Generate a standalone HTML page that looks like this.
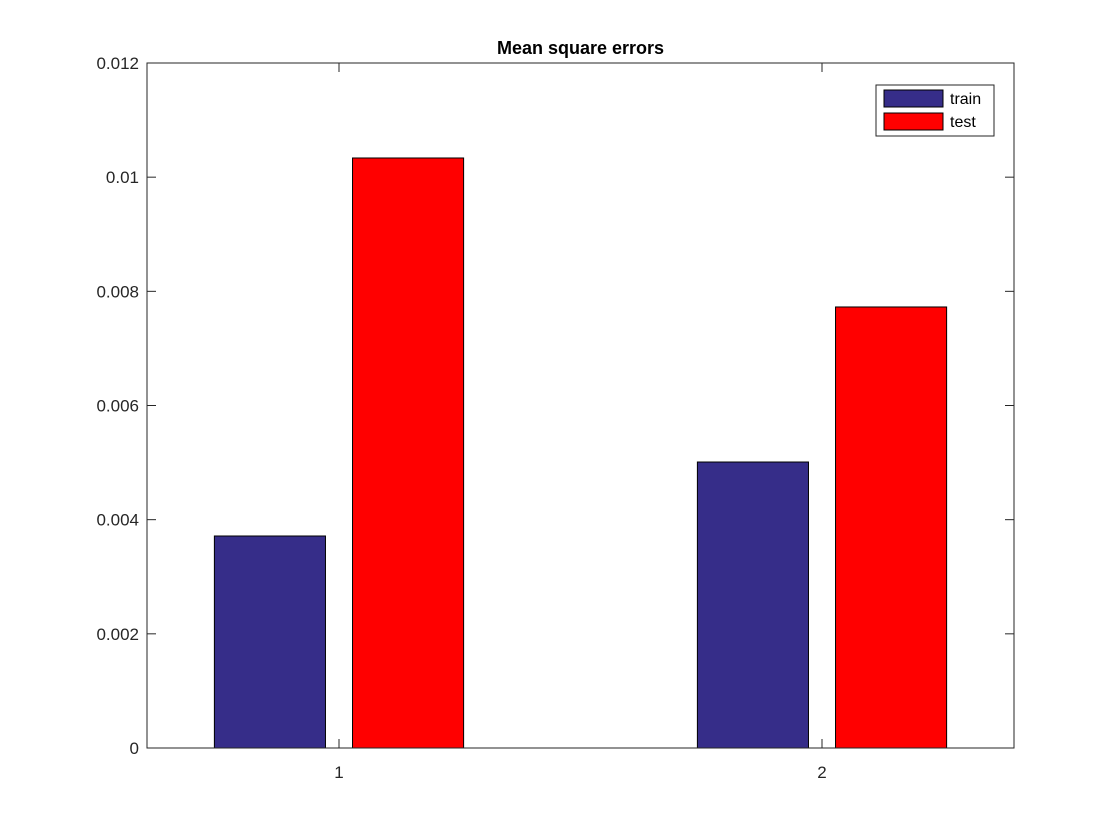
<!DOCTYPE html>
<html><head><meta charset="utf-8"><style>
body{margin:0;background:#fff;}
svg{display:block;font-family:"Liberation Sans",sans-serif;}
</style></head><body>
<svg id="chart" width="1120" height="840"></svg>
<script>
const categories=["1","2"];
const trainValues=[0.003714,0.00501];
const testValues=[0.010336,0.007726];
const yTicks=[0,0.002,0.004,0.006,0.008,0.01,0.012];
const yTickLabels=["0","0.002","0.004","0.006","0.008","0.01","0.012"];
const seriesNames=["train","test"];

const svg=document.getElementById('chart');
const NS='http://www.w3.org/2000/svg';
const L=147,R=1014,T=63,B=748;
const xMin=0.6025,xMax=2.3975,yMax=0.012;
const xs=v=>L+(v-xMin)/(xMax-xMin)*(R-L);
const ys=v=>B-v/yMax*(B-T);
function mk(tag,attrs,parent){const e=document.createElementNS(NS,tag);for(const k in attrs)e.setAttribute(k,attrs[k]);(parent||svg).appendChild(e);return e;}

const bg=mk('rect',{x:L,y:T,width:R-L,height:B-T,fill:'#fff'});



const barW=0.23,off=0.143;
const series=[trainValues,testValues],colors=['#362d89','#ff0000'];
series.forEach((vals,s)=>{
  vals.forEach((v,i)=>{
    const c=i+1+(s===0?-off:off);
    const x0=xs(c-barW/2),x1=xs(c+barW/2);
    const r=mk('rect',{x:x0,y:ys(v),width:x1-x0,height:ys(0)-ys(v),fill:colors[s],stroke:'#000','stroke-width':1});
    
    
  });
});

const box=mk('rect',{x:L,y:T,width:R-L,height:B-T,fill:'none',stroke:'#262626','stroke-width':1});



yTicks.forEach((t,i)=>{
  const y=ys(t);
  mk('line',{x1:L,x2:L+9,y1:y,y2:y,stroke:'#262626'});
  mk('line',{x1:R,x2:R-9,y1:y,y2:y,stroke:'#262626'});
  const tx=mk('text',{x:L-8,y:y+6,'text-anchor':'end','font-size':17,fill:'#262626'});
  tx.textContent=yTickLabels[i];
  
  
});
categories.forEach((c,i)=>{
  const x=xs(i+1);
  mk('line',{x1:x,x2:x,y1:B,y2:B-9,stroke:'#262626'});
  mk('line',{x1:x,x2:x,y1:T,y2:T+9,stroke:'#262626'});
  const tx=mk('text',{x:x,y:B+30,'text-anchor':'middle','font-size':17,fill:'#262626'});
  tx.textContent=c;
  
  
});

const title=mk('text',{x:(L+R)/2,y:54,'text-anchor':'middle','font-size':18,'font-weight':'bold',fill:'#000'});
title.textContent='Mean square errors';



const lg=mk('g',{});


mk('rect',{x:876,y:85,width:118,height:51,fill:'#fff',stroke:'#262626'},lg);
seriesNames.forEach((n,i)=>{
  const y=90+i*23;
  const sw=mk('rect',{x:884,y:y,width:59,height:17,fill:colors[i],stroke:'#000'},lg);
  
  
  const t=mk('text',{x:950,y:y+14,'font-size':16,fill:'#000'},lg);
  t.textContent=n;
  
  
});
</script>
</body></html>
